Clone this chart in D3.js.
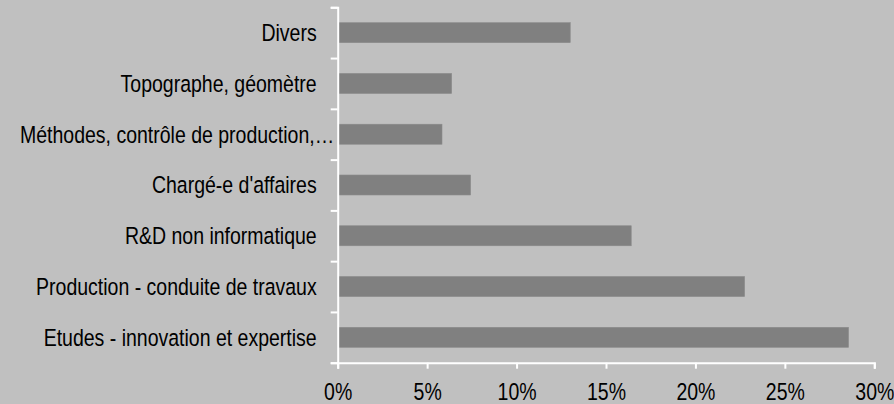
<!DOCTYPE html>
<html>
<head>
<meta charset="utf-8">
<title>Métiers</title>
<script src="https://d3js.org/d3.v7.min.js"></script>
<style>
  body { margin: 0; background: #c0c0c0; }
  text { font-family: "Liberation Sans", Arial, sans-serif; font-size: 23.5px; fill: #000; }
</style>
</head>
<body>
<script>
// données (part en %)
const categories = [
  "Divers",
  "Topographe, géomètre",
  "Méthodes, contrôle de production,…",
  "Chargé-e d'affaires",
  "R&D non informatique",
  "Production - conduite de travaux",
  "Etudes - innovation et expertise"
];
const values = [13.0, 6.37, 5.83, 7.43, 16.41, 22.75, 28.56];
const xTicks = [0, 5, 10, 15, 20, 25, 30];

const width = 894, height = 404;
const margin = { top: 7.3, right: 19.7, bottom: 41.3, left: 337.7 };
const narrow = 0.83; // police étroite simulée (pas d'Arial Narrow installée)

const svg = d3.select("body").append("svg")
  .attr("width", width)
  .attr("height", height)
  .style("display", "block");

svg.append("rect").attr("width", width).attr("height", height).attr("fill", "#c0c0c0");

const x = d3.scaleLinear()
  .domain([0, 30])
  .range([margin.left, width - margin.right]);

const y = d3.scaleBand()
  .domain(categories)
  .range([margin.top, height - margin.bottom])
  .paddingInner(0.606)
  .paddingOuter(0.303);

// barres
svg.append("g").selectAll("rect")
  .data(values)
  .join("rect")
  .attr("x", x(0) + 1)
  .attr("y", (d, i) => y(categories[i]))
  .attr("width", d => x(d) - x(0) - 1)
  .attr("height", y.bandwidth())
  .attr("fill", "#808080")
  .attr("stroke", "#8a8a8a")
  .attr("stroke-width", 0.6);

// axe vertical : graduations entre les catégories
const yEdges = d3.scaleLinear()
  .domain([0, categories.length])
  .range([margin.top, height - margin.bottom]);

svg.append("g")
  .attr("transform", "translate(" + x(0) + ",0)")
  .call(d3.axisLeft(yEdges).ticks(categories.length).tickFormat("").tickSize(7).tickSizeOuter(7));

// axe horizontal
const xAxis = svg.append("g")
  .attr("transform", "translate(0," + (height - margin.bottom) + ")")
  .call(d3.axisBottom(x).tickValues(xTicks).tickFormat(d => d + "%").tickSize(6).tickSizeOuter(6).tickPadding(14));

svg.selectAll(".domain, .tick line")
  .attr("stroke", "#fff")
  .attr("stroke-width", 2);

xAxis.selectAll("text")
  .attr("font-family", null)
  .attr("font-size", null)
  .attr("fill", "#000")
  .attr("dy", "0.72em")
  .attr("transform", function () {
    return "translate(0," + this.getAttribute("y") + ") scale(" + narrow + ",1)";
  })
  .attr("y", 0);

// étiquettes des catégories
const labels = svg.append("g").selectAll("text")
  .data(categories)
  .join("text")
  .attr("dy", "0.36em")
  .attr("text-anchor", "end")
  .text(d => d)
  .attr("transform", d => "translate(" + (x(0) - 21) + "," + (y(d) + y.bandwidth() / 2) + ") scale(" + narrow + ",1)");

// un libellé trop long est calé à gauche, comme dans le tableur
labels.each(function (d) {
  const w = this.getComputedTextLength() * narrow;
  if (x(0) - 21 - w < 20) {
    d3.select(this)
      .attr("text-anchor", "start")
      .attr("transform", "translate(20," + (y(d) + y.bandwidth() / 2) + ") scale(" + narrow + ",1)");
  }
});
</script>
</body>
</html>
